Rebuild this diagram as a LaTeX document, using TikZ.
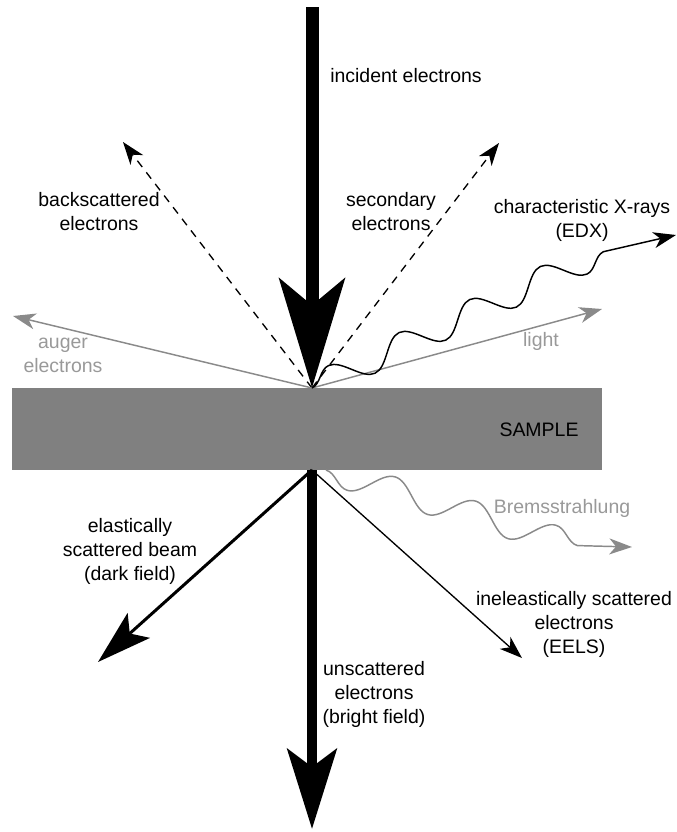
\documentclass[tikz,border=0pt]{standalone}
\usepackage{fontspec}
\setmainfont{Liberation Sans}
\usetikzlibrary{arrows.meta, decorations.pathmorphing, positioning}

\definecolor{samplegray}{HTML}{808080}
\definecolor{raygray}{HTML}{8A8A8A}
\definecolor{txtgray}{HTML}{999999}

\begin{document}
\begin{tikzpicture}[x=0.75pt, y=-0.75pt,
	t/.style={align=center, font=\fontsize{14.6}{18}\selectfont, inner sep=0pt},
	small/.style={-{Stealth[length=17pt, width=12pt, inset=5pt]}},
	dashray/.style={small, line width=1pt, dash pattern=on 6pt off 5pt},
	grey/.style={small, draw=raygray, line width=1.1pt},
	xwave/.style={small, line width=1.1pt, decorate,
		decoration={snake, segment length=58.5pt, amplitude=10pt, post length=29pt}},
	bwave/.style={small, draw=raygray, line width=1.1pt, decorate,
		decoration={snake, mirror, segment length=63pt, amplitude=10pt, post length=23pt}}]
	\useasboundingbox (0,0) rectangle (677,832);
	\coordinate (top) at (312,7);
	\coordinate (hit) at (312,388);
	\coordinate (out) at (312,470);
	\coordinate (bot) at (312,829);
	\coordinate (bs) at (123,142);
	\coordinate (se) at (499,143);
	\coordinate (au) at (13,316);
	\coordinate (li) at (602,309);
	\coordinate (xw) at (637,236);
	\coordinate (xr) at (676,235);
	\coordinate (el) at (98,662);
	\coordinate (in) at (522,658);
	\coordinate (brs) at (326,470);
	\coordinate (bw) at (602,553);
	\coordinate (br) at (632,547);

	% sample
	\fill[samplegray] (12,388) rectangle (602,470);
	\node[t] (sample) at (539,430) {SAMPLE};

	% above the sample
	\draw[dashray] (hit) -- (bs);
	\draw[dashray] (hit) -- (se);
	\draw[grey] (hit) -- (au);
	\draw[grey] (hit) -- (li);
	\draw[xwave] (hit) -- (xw) -- (xr);
	\draw[line width=9.75pt, -{Stealth[length=82pt, width=49pt, inset=20pt]}] (top) -- (hit);

	% below the sample
	\draw[bwave] (brs) -- (bw) -- (br);
	\draw[small, line width=1pt] (out) -- (in);
	\draw[line width=2.25pt, -{Stealth[length=41pt, width=25pt, inset=9pt]}] (out) -- (el);
	\draw[line width=7.5pt, -{Stealth[length=60pt, width=37pt, inset=13.5pt]}] (out) -- (bot);

	% labels
	\node[t, anchor=west] (inc) at (330,76) {incident electrons};
	\node[t] (back) at (99,212) {backscattered\\electrons};
	\node[t] (sec) at (391,212) {secondary\\electrons};
	\node[t] (edx) at (582,220) {characteristic X-rays\\(EDX)};
	\node[t, text=txtgray] (aug) at (63,355) {auger\\electrons};
	\node[t, text=txtgray] (lig) at (541,341) {light};
	\node[t, text=txtgray] (brem) at (562,508) {Bremsstrahlung};
	\node[t] (elas) at (130,551) {elastically\\scattered beam\\(dark field)};
	\node[t] (inel) at (574,624) {ineleastically scattered\\electrons\\(EELS)};
	\node[t] (unsc) at (374,694) {unscattered\\electrons\\(bright field)};
\end{tikzpicture}
\end{document}
